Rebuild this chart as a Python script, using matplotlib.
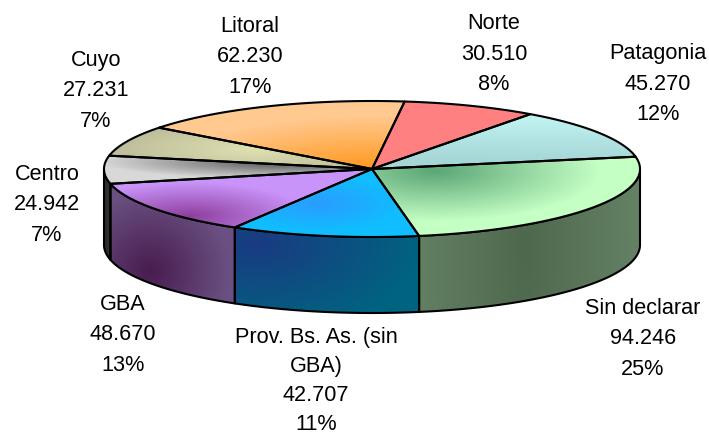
import numpy as np
import matplotlib
matplotlib.use("Agg")
import matplotlib.pyplot as plt
from matplotlib.colors import to_rgb
from matplotlib.patches import Polygon

plt.rcParams['font.family'] = ['Liberation Sans', 'DejaVu Sans']

categories = ["Norte", "Patagonia", "Sin declarar", "Prov. Bs. As. (sin\nGBA)", "GBA", "Centro", "Cuyo", "Litoral"]
values = [30510, 45270, 94246, 42707, 48670, 24942, 27231, 62230]
percents = [8, 12, 25, 11, 13, 7, 7, 17]
label_x = [494, 658, 643, 316, 123, 47, 96, 250]
label_y = [54, 84, 339, 381, 335, 205, 91, 57]
label_spacing = [1.59, 1.59, 1.59, 1.5, 1.59, 1.59, 1.59, 1.59]

# (hot x, hot y, scale x, scale y, hot colour, outer colour)
top_style = [
    (450, 120, 400, 400, "#FF8080", "#FF8080"),
    (560, 100, 900, 62, "#CCFFFF", "#A6D6D6"),
    (435, 172, 165, 50, "#5BA576", "#C4FFC4"),
    (320, 205, 85, 28, "#2A9CFF", "#10BEFF"),
    (190, 217, 120, 34, "#8E3F9E", "#C994F9"),
    (290, 163, 190, 17, "#505050", "#D8D8D8"),
    (255, 150, 140, 28, "#E0E0B2", "#BDBD9A"),
    (372, 172, 210, 55, "#FF961A", "#FFC990"),
]
side_style = [
    (0, 0, 1, 1, "#FFFFFF", "#FFFFFF"),
    (0, 0, 1, 1, "#FFFFFF", "#FFFFFF"),
    (525, 250, 125, 500, "#4E684E", "#678467"),
    (255, 245, 170, 90, "#1A3A82", "#006480"),
    (150, 272, 80, 80, "#481C4E", "#6A5082"),
    (105, 240, 30, 500, "#2A2A2A", "#555555"),
    (0, 0, 1, 1, "#FFFFFF", "#FFFFFF"),
    (0, 0, 1, 1, "#FFFFFF", "#FFFFFF"),
]

W, H = 709, 435
cx, cy, rx, ry, depth = 372, 170, 268, 68, 76
start = 83.0

fig = plt.figure(figsize=(W / 100, H / 100), dpi=100)
ax = fig.add_axes([0, 0, 1, 1])
ax.set_axis_off()

gx, gy = np.meshgrid(np.arange(W) + .5, np.arange(H) + .5)


def gradient_fill(pts, style, z):
    hx, hy, sx, sy, c0, c1 = style
    d = np.clip(np.hypot((gx - hx) / sx, (gy - hy) / sy), 0, 1)[..., None]
    img = np.array(to_rgb(c0)) * (1 - d) + np.array(to_rgb(c1)) * d
    im = ax.imshow(img, extent=(0, W, H, 0), aspect='auto', zorder=z, interpolation='bilinear')
    poly = Polygon(pts, closed=True, fc='none', ec='black', lw=1.5, joinstyle='round', zorder=z + .5)
    ax.add_patch(poly)
    im.set_clip_path(poly)


def ellipse(t, dy=0):
    r = np.radians(t)
    return np.column_stack((cx + rx * np.cos(r), cy - ry * np.sin(r) + dy))


fractions = np.array(values) / sum(values)
edges = start - np.concatenate(([0], np.cumsum(fractions))) * 360

# side walls of the front half
for i in range(len(values)):
    a, b = edges[i], edges[i + 1]
    lo, hi = max(b, -180), min(a, 0)
    if lo >= hi:
        continue
    t = np.linspace(hi, lo, 60)
    pts = np.vstack((ellipse(t), ellipse(t[::-1], depth)))
    gradient_fill(pts, side_style[i], 2)

# top faces
for i in range(len(values)):
    t = np.linspace(edges[i], edges[i + 1], 90)
    pts = np.vstack(([[cx, cy]], ellipse(t)))
    gradient_fill(pts, top_style[i], 5)

for i, name in enumerate(categories):
    value = f"{values[i]:,}".replace(",", ".")
    ax.text(label_x[i], label_y[i], f"{name}\n{value}\n{percents[i]}%", ha='center', va='center',
            fontsize=15.6, linespacing=label_spacing[i], color='black', zorder=10)

ax.set_xlim(0, W)
ax.set_ylim(H, 0)
fig.savefig("out.png", dpi=100)
